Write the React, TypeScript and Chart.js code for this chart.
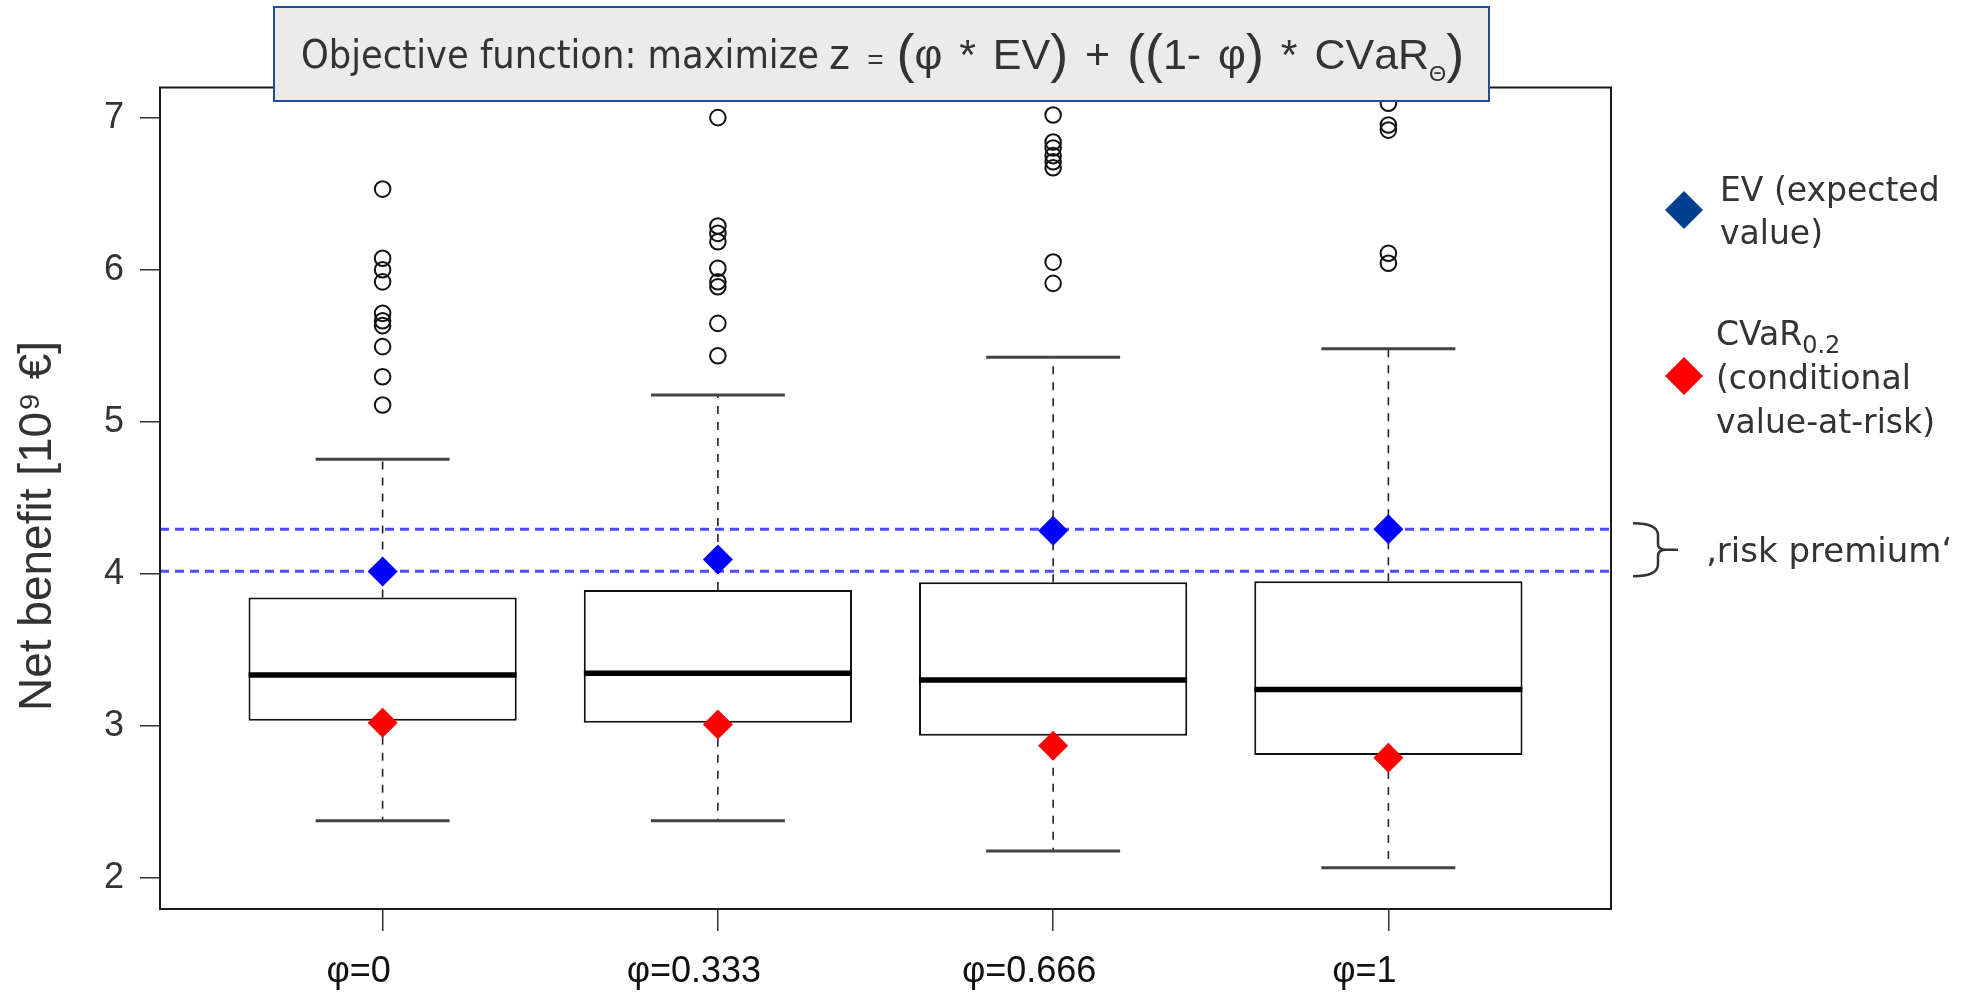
import { useEffect, useRef } from 'react';
import { Chart, registerables } from 'chart.js';

Chart.register(...registerables);

// ---------------- data ----------------
const categories = ['φ=0', 'φ=0.333', 'φ=0.666', 'φ=1'];
const lowerWhisker = [2.377, 2.377, 2.177, 2.067];
const q1 = [3.034, 3.021, 2.935, 2.809];
const median = [3.335, 3.346, 3.302, 3.24];
const q3 = [3.845, 3.893, 3.944, 3.951];
const upperWhisker = [4.753, 5.176, 5.424, 5.48];
const outliersPhi0 = [6.53, 6.075, 6.0, 5.92, 5.713, 5.664, 5.632, 5.494, 5.296, 5.11];
const outliersPhi0333 = [7.0, 6.287, 6.239, 6.184, 6.009, 5.921, 5.888, 5.647, 5.434];
const outliersPhi0666 = [7.017, 6.84, 6.8, 6.75, 6.71, 6.67, 6.05, 5.91];
const outliersPhi1 = [7.094, 6.951, 6.918, 6.108, 6.042];
const expectedValue = [4.015, 4.095, 4.284, 4.293];
const cvar02 = [3.021, 3.01, 2.87, 2.791];
const riskPremiumLevels = [4.293, 4.017];
const yTicks = [2, 3, 4, 5, 6, 7];
const xRange = [0.336, 4.664];
const yRange = [1.796, 7.198];

const outlierGroups = [outliersPhi0, outliersPhi0333, outliersPhi0666, outliersPhi1];
const positions = categories.map((_, i) => i + 1);

const boxData = positions.map((x, i) => ({ x, y: [q1[i], q3[i]] }));
const medianData = positions.map((x, i) => ({ x, y: median[i] }));
const capData = positions.flatMap((x, i) => [
  { x, y: lowerWhisker[i] },
  { x, y: upperWhisker[i] },
]);
const whiskerData = positions.flatMap((x, i) => [
  { x, y: q3[i] },
  { x, y: upperWhisker[i] },
  { x, y: null },
  { x, y: q1[i] },
  { x, y: lowerWhisker[i] },
  { x, y: null },
]);
const outlierData = outlierGroups.flatMap((arr, i) => arr.map((y) => ({ x: positions[i], y })));
const evData = positions.map((x, i) => ({ x, y: expectedValue[i] }));
const cvarData = positions.map((x, i) => ({ x, y: cvar02[i] }));
const riskLineData = [
  { x: xRange[0], y: riskPremiumLevels[0] },
  { x: xRange[1], y: riskPremiumLevels[0] },
  { x: xRange[1], y: null },
  { x: xRange[0], y: riskPremiumLevels[1] },
  { x: xRange[1], y: riskPremiumLevels[1] },
];

// ---------------- annotation plugin ----------------
const TEXT = '#333333';

const annotations = {
  id: 'annotations',
  afterDraw(chart: any) {
    const { ctx, chartArea: a, scales } = chart;
    ctx.save();

    // plot frame
    ctx.strokeStyle = '#1a1a1a';
    ctx.lineWidth = 2;
    ctx.strokeRect(a.left, a.top, a.right - a.left, a.bottom - a.top);

    // title box
    ctx.fillStyle = '#ebebeb';
    ctx.fillRect(274, 7, 1215, 94);
    ctx.strokeStyle = '#1d4f99';
    ctx.lineWidth = 2;
    ctx.strokeRect(274, 7, 1215, 94);

    ctx.fillStyle = TEXT;
    ctx.textBaseline = 'alphabetic';
    ctx.textAlign = 'left';
    ctx.font = '39px "DejaVu Sans"';
    ctx.fillText('Objective function: maximize', 301, 68, 518);

    const big = '54px "Liberation Sans"';
    const mid = '43px "Liberation Sans"';
    const runs = [
      { t: 'z ', f: mid, dy: 0 },
      { t: '= ', f: '28px "Liberation Sans"', dy: 0 },
      { t: '(', f: big, dy: 3 },
      { t: 'φ * EV', f: mid, dy: 0 },
      { t: ')', f: big, dy: 3 },
      { t: ' + ', f: mid, dy: 0 },
      { t: '((', f: big, dy: 3 },
      { t: '1- φ', f: mid, dy: 0 },
      { t: ')', f: big, dy: 3 },
      { t: ' * CVaR', f: mid, dy: 0 },
      { t: 'Θ', f: '22px "Liberation Sans"', dy: 12 },
      { t: ')', f: big, dy: 3 },
    ];
    // natural width, then widen only the spaces to reach the reference span
    let natural = 0;
    let nSpaces = 0;
    for (const r of runs) {
      ctx.font = r.f;
      natural += ctx.measureText(r.t).width;
      for (const ch of r.t) if (ch === ' ') nSpaces++;
    }
    const targetStart = 829;
    const targetEnd = 1461;
    const extra = Math.max(0, (targetEnd - targetStart - natural) / Math.max(1, nSpaces));
    let x = targetStart;
    for (const r of runs) {
      ctx.font = r.f;
      for (const ch of r.t) {
        ctx.fillText(ch, x, 69 + r.dy);
        x += ctx.measureText(ch).width + (ch === ' ' ? extra : 0);
      }
    }

    // y axis title
    ctx.save();
    ctx.translate(51, 526);
    ctx.rotate(-Math.PI / 2);
    ctx.textAlign = 'center';
    ctx.font = '46px "Liberation Sans"';
    ctx.fillStyle = TEXT;
    ctx.fillText('Net benefit [10⁹ €]', 0, 0);
    ctx.restore();

    // legend
    const diamond = (cx: number, cy: number, r: number, color: string) => {
      ctx.beginPath();
      ctx.moveTo(cx - r, cy);
      ctx.lineTo(cx, cy - r);
      ctx.lineTo(cx + r, cy);
      ctx.lineTo(cx, cy + r);
      ctx.closePath();
      ctx.fillStyle = color;
      ctx.fill();
    };
    diamond(1684, 210, 19, '#00408f');
    diamond(1684, 376, 19, '#ff0000');

    ctx.fillStyle = TEXT;
    ctx.textAlign = 'left';
    ctx.font = '33px "DejaVu Sans"';
    ctx.fillText('EV (expected', 1720, 201);
    ctx.fillText('value)', 1720, 244);
    ctx.fillText('CVaR', 1716, 345);
    const cw = ctx.measureText('CVaR').width;
    ctx.font = '24px "DejaVu Sans"';
    ctx.fillText('0.2', 1716 + cw, 353);
    ctx.font = '33px "DejaVu Sans"';
    ctx.fillText('(conditional', 1716, 389);
    ctx.fillText('value-at-risk)', 1716, 433);

    // brace + risk premium
    const yTop = scales.y.getPixelForValue(riskPremiumLevels[0]) - 6;
    const yBot = scales.y.getPixelForValue(riskPremiumLevels[1]) + 5;
    const yMid = (yTop + yBot) / 2;
    const x0 = 1633;
    const xv = 1658;
    const xt = 1678;
    ctx.strokeStyle = TEXT;
    ctx.lineWidth = 2.5;
    ctx.beginPath();
    ctx.moveTo(x0, yTop);
    ctx.quadraticCurveTo(xv, yTop, xv, yTop + 12);
    ctx.lineTo(xv, yMid - 6);
    ctx.quadraticCurveTo(xv, yMid, xv + 8, yMid);
    ctx.lineTo(xt, yMid);
    ctx.moveTo(xv + 8, yMid);
    ctx.quadraticCurveTo(xv, yMid, xv, yMid + 6);
    ctx.lineTo(xv, yBot - 12);
    ctx.quadraticCurveTo(xv, yBot, x0, yBot);
    ctx.stroke();

    ctx.fillStyle = TEXT;
    ctx.font = '34px "DejaVu Sans"';
    ctx.fillText('‚risk premium‘', 1706, 562);

    ctx.restore();
  },
};

export default function App() {
  const ref = useRef<HTMLCanvasElement>(null);

  useEffect(() => {
    const canvas = ref.current;
    if (!canvas) return;
    const chart = new Chart(canvas, {
      type: 'bar',
      data: {
        datasets: [
          {
            type: 'scatter',
            label: 'EV',
            data: evData,
            pointStyle: 'rectRot',
            pointRadius: 15,
            pointBackgroundColor: '#0000ff',
            pointBorderWidth: 0,
            order: 0,
          },
          {
            type: 'scatter',
            label: 'CVaR',
            data: cvarData,
            pointStyle: 'rectRot',
            pointRadius: 15,
            pointBackgroundColor: '#ff0000',
            pointBorderWidth: 0,
            order: 0,
          },
          {
            type: 'scatter',
            label: 'outliers',
            data: outlierData,
            pointStyle: 'circle',
            pointRadius: 7.8,
            pointBorderWidth: 2,
            pointBorderColor: '#111111',
            pointBackgroundColor: 'rgba(0,0,0,0)',
            order: 1,
          },
          {
            type: 'line',
            label: 'risk premium',
            data: riskLineData,
            borderColor: '#4d4dff',
            borderWidth: 3,
            borderDash: [9, 6],
            pointRadius: 0,
            fill: false,
            order: 2,
          },
          {
            type: 'scatter',
            label: 'median',
            data: medianData,
            pointStyle: 'line',
            pointRadius: 134,
            pointBorderWidth: 5.5,
            pointBorderColor: '#000000',
            order: 3,
          },
          {
            type: 'scatter',
            label: 'caps',
            data: capData,
            pointStyle: 'line',
            pointRadius: 67,
            pointBorderWidth: 3,
            pointBorderColor: '#444444',
            order: 3,
          },
          {
            type: 'bar',
            label: 'box',
            data: boxData as any,
            backgroundColor: '#ffffff',
            borderColor: '#111111',
            borderWidth: 2,
            borderSkipped: false,
            barPercentage: 0.8,
            categoryPercentage: 1,
            order: 4,
          },
          {
            type: 'line',
            label: 'whiskers',
            data: whiskerData,
            borderColor: '#222222',
            borderWidth: 1.6,
            borderDash: [8, 8],
            pointRadius: 0,
            fill: false,
            order: 5,
          },
        ] as any,
      },
      options: {
        responsive: false,
        devicePixelRatio: 1,
        animation: false,
        events: [],
        layout: { autoPadding: false, padding: { left: 0, right: 350, top: 87.5, bottom: 0 } },
        plugins: { legend: { display: false }, tooltip: { enabled: false } },
        scales: {
          x: {
            type: 'linear',
            min: xRange[0],
            max: xRange[1],
            offset: false,
            afterBuildTicks: (s: any) => {
              s.ticks = positions.map((v) => ({ value: v }));
            },
            afterFit: (s: any) => {
              s.height = 87;
            },
            grid: {
              display: true,
              drawOnChartArea: false,
              drawTicks: true,
              tickLength: 22,
              color: '#333333',
              lineWidth: 1.5,
              offset: false,
            },
            border: { display: false },
            ticks: {
              autoSkip: false,
              maxRotation: 0,
              minRotation: 0,
              padding: 19,
              labelOffset: -24,
              color: '#111111',
              font: { family: 'Liberation Sans', size: 36 },
              callback: (_v: any, i: number) => categories[i],
            },
          },
          y: {
            type: 'linear',
            min: yRange[0],
            max: yRange[1],
            afterBuildTicks: (s: any) => {
              s.ticks = yTicks.map((v) => ({ value: v }));
            },
            afterFit: (s: any) => {
              s.width = 160;
            },
            grid: {
              display: true,
              drawOnChartArea: false,
              drawTicks: true,
              tickLength: 20,
              color: '#333333',
              lineWidth: 1.5,
            },
            border: { display: false },
            ticks: {
              padding: 16,
              color: '#333333',
              font: { family: 'Liberation Sans', size: 36 },
              callback: (v: any) => String(v),
            },
          },
        },
      } as any,
      plugins: [annotations],
    });
    return () => chart.destroy();
  }, []);

  return (
    <div style={{ position: 'fixed', left: 0, top: 0, width: 1961, height: 996, background: '#ffffff' }}>
      <canvas ref={ref} width={1961} height={996} style={{ display: 'block', width: 1961, height: 996 }} />
    </div>
  );
}
